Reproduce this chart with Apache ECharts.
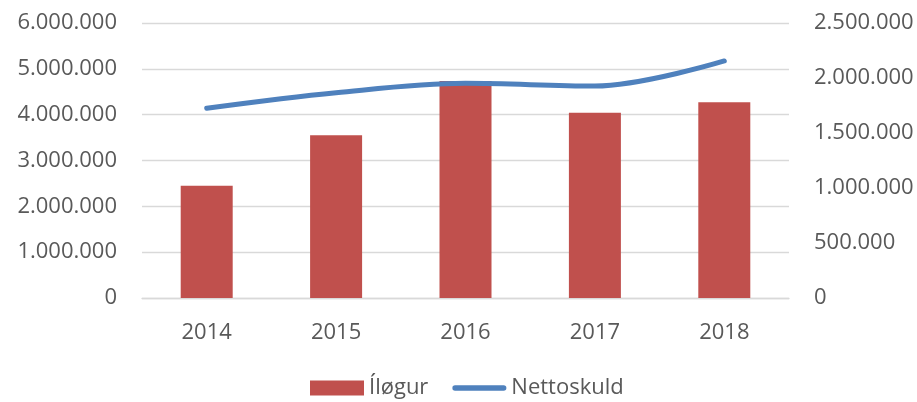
<!DOCTYPE html>
<html>
<head>
<meta charset="utf-8">
<script src="https://cdn.jsdelivr.net/npm/echarts@6/dist/echarts.min.js"></script>
<style>
  html, body { margin: 0; padding: 0; background: #fff; }
  #chart { width: 917px; height: 402px; }
</style>
</head>
<body>
<div id="chart"></div>
<script>
// data
const years = ['2014', '2015', '2016', '2017', '2018']
const ilogur = [2450000, 3550000, 4735000, 4040000, 4270000]
const nettoskuld = [1725000, 1866000, 1952000, 1927000, 2155000]

const leftTicks = { min: 0, max: 6000000, interval: 1000000 }
const rightTicks = { min: 0, max: 2500000, interval: 500000 }

const textColor = '#595959'
const fontFamily = '"Open Sans", "Noto Sans", sans-serif'

// 1234567 -> 1.234.567
function fmt(v) {
  return String(Math.round(v)).replace(/\B(?=(\d{3})+(?!\d))/g, '.')
}

const chart = echarts.init(document.getElementById('chart'))
const option = {
  animation: false,
  textStyle: { fontFamily: fontFamily },
  grid: {
    left: 142,
    right: 128,
    top: 23,
    bottom: 104,
    containLabel: false
  },
  legend: {
    left: 310,
    top: 377,
    padding: 0,
    itemWidth: 54,
    itemHeight: 15,
    itemGap: 24,
    textStyle: { color: textColor, fontSize: 22, fontFamily: fontFamily },
    data: [
      { name: 'Íløgur', icon: 'rect' },
      // thin rounded bar as the line key
      { name: 'Nettoskuld', icon: 'path://M5,0 L95,0 A5,5 0 0 1 95,10 L5,10 A5,5 0 0 1 5,0 Z' }
    ]
  },
  xAxis: {
    type: 'category',
    data: years,
    axisTick: { show: false },
    axisLine: { lineStyle: { color: '#d9d9d9', width: 1.3 } },
    axisLabel: { color: textColor, fontSize: 22, margin: 24 }
  },
  yAxis: [
    {
      type: 'value',
      min: leftTicks.min,
      max: leftTicks.max,
      interval: leftTicks.interval,
      axisLine: { show: false },
      axisTick: { show: false },
      splitLine: { lineStyle: { color: '#d9d9d9', width: 1.3 } },
      axisLabel: { color: textColor, fontSize: 22, margin: 25, formatter: fmt }
    },
    {
      type: 'value',
      min: rightTicks.min,
      max: rightTicks.max,
      interval: rightTicks.interval,
      axisLine: { show: false },
      axisTick: { show: false },
      splitLine: { show: false },
      axisLabel: { color: textColor, fontSize: 22, margin: 25, formatter: fmt }
    }
  ],
  series: [
    {
      name: 'Íløgur',
      type: 'bar',
      barWidth: 52,
      yAxisIndex: 0,
      itemStyle: { color: '#c0504d' },
      data: ilogur
    },
    {
      name: 'Nettoskuld',
      type: 'line',
      yAxisIndex: 1,
      smooth: 0.35,
      symbol: 'none',
      lineStyle: { color: '#4f81bd', width: 5, cap: 'round' },
      itemStyle: { color: '#4f81bd' },
      data: nettoskuld
    }
  ]
}
chart.setOption(option)
</script>
</body>
</html>
